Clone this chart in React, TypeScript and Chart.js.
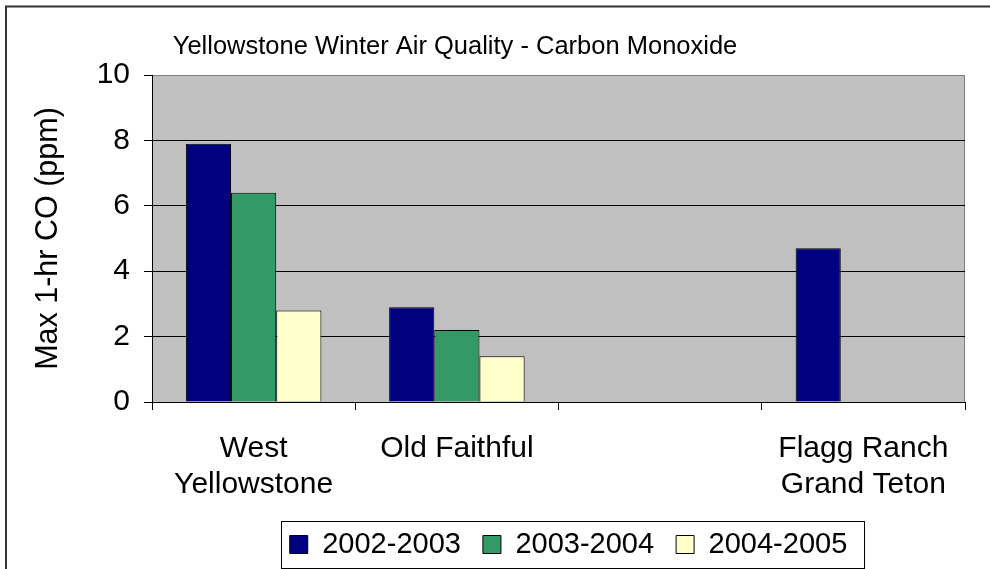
import React, { useEffect, useRef } from 'react';
import { Chart, registerables } from 'chart.js';

Chart.register(...registerables);

const chartTitle = 'Yellowstone Winter Air Quality - Carbon Monoxide';
const yAxisTitle = 'Max 1-hr CO (ppm)';
const categories: (string | string[])[] = [['West', 'Yellowstone'], 'Old Faithful', '', ['Flagg Ranch', 'Grand Teton']];
const seriesNames = ['2002-2003', '2003-2004', '2004-2005'];
const values2002 = [7.9, 2.9, null, 4.7];
const values2003 = [6.4, 2.2, null, null];
const values2004 = [2.8, 1.4, null, null];
const yMin = 0;
const yMax = 10;
const yStep = 2;

const seriesColors = ['#000080', '#339966', '#FFFFCC'];
const FONT = '"Liberation Sans", Arial, Helvetica, sans-serif';

const decorPlugin = {
  id: 'decor',
  afterLayout(chart: any) {
    const lg = chart.legend;
    if (lg) {
      lg.left += 10;
      lg.right += 10;
    }
  },
  beforeDraw(chart: any) {
    const { ctx, chartArea: a } = chart;
    ctx.save();
    ctx.fillStyle = '#ffffff';
    ctx.fillRect(0, 0, chart.width, chart.height);
    ctx.fillStyle = '#C0C0C0';
    ctx.fillRect(a.left, a.top, a.right - a.left, a.bottom - a.top);
    ctx.strokeStyle = '#808080';
    ctx.lineWidth = 1;
    ctx.beginPath();
    ctx.moveTo(Math.round(a.right) - 0.5, a.top);
    ctx.lineTo(Math.round(a.right) - 0.5, a.bottom);
    ctx.stroke();
    ctx.restore();
  },
  afterDraw(chart: any) {
    const { ctx } = chart;
    ctx.save();
    ctx.fillStyle = '#000';
    ctx.font = `25.5px ${FONT}`;
    ctx.textAlign = 'center';
    ctx.textBaseline = 'middle';
    ctx.fillText(chartTitle, 455, 47);

    const hb = chart.legend && chart.legend.legendHitBoxes;
    if (hb && hb.length) {
      const first = hb[0];
      const last = hb[hb.length - 1];
      const cy = first.top + first.height / 2;
      const l = first.left - 9;
      const r = last.left + last.width + 16;
      ctx.strokeStyle = '#000';
      ctx.lineWidth = 1;
      ctx.strokeRect(Math.round(l) + 0.5, Math.round(cy - 23.5) + 0.5, Math.round(r - l), 47);
    }

    ctx.strokeStyle = '#333';
    ctx.lineWidth = 2;
    ctx.strokeRect(6, 6.5, 1200, 800);
    ctx.restore();
  },
};

export default function App() {
  const ref = useRef<HTMLCanvasElement | null>(null);

  useEffect(() => {
    if (!ref.current) return;
    const seriesValues = [values2002, values2003, values2004];
    const chart = new Chart(ref.current, {
      type: 'bar',
      data: {
        labels: categories,
        datasets: seriesNames.map((name, i) => ({
          label: name,
          data: seriesValues[i],
          backgroundColor: seriesColors[i],
          borderColor: '#000',
          borderWidth: 1,
          barPercentage: 1,
          categoryPercentage: 3 / 4.5,
        })),
      },
      options: {
        responsive: false,
        animation: false,
        layout: { padding: { left: 0, right: 25, top: 75, bottom: 0 } },
        plugins: {
          legend: {
            position: 'bottom',
            fullSize: false,
            labels: {
              boxWidth: 18,
              boxHeight: 18,
              padding: 22,
              color: '#000',
              font: { family: FONT, size: 29 },
            },
          },
          title: { display: false },
          tooltip: { enabled: false },
        },
        scales: {
          x: {
            offset: true,
            grid: { offset: true, drawOnChartArea: false, drawTicks: true, tickLength: 8, color: '#000' },
            border: { color: '#000', width: 1 },
            ticks: {
              color: '#000',
              font: { family: FONT, size: 30, lineHeight: 1.2 },
              padding: 21,
              maxRotation: 0,
              autoSkip: false,
            },
            afterFit: (s: any) => {
              s.height = 106;
            },
          },
          y: {
            min: yMin,
            max: yMax,
            ticks: { stepSize: yStep, color: '#000', font: { family: FONT, size: 30 }, padding: 14 },
            grid: {
              color: (c: any) => (c.tick && c.tick.value === yMax ? '#808080' : '#000'),
              tickColor: '#000',
              tickLength: 8,
            },
            border: { color: '#000', width: 1 },
            title: {
              display: true,
              text: yAxisTitle,
              color: '#000',
              font: { family: FONT, size: 30.5, lineHeight: 1.2 },
              padding: { top: 30, bottom: 0 },
            },
            afterFit: (s: any) => {
              s.width = 152;
            },
          },
        },
      } as any,
      plugins: [decorPlugin],
    });
    return () => chart.destroy();
  }, []);

  return (
    <div style={{ position: 'fixed', left: 0, top: 0, width: 990, height: 569, overflow: 'hidden', background: '#fff' }}>
      <canvas ref={ref} width={990} height={569} style={{ display: 'block', width: 990, height: 569 }} />
    </div>
  );
}
